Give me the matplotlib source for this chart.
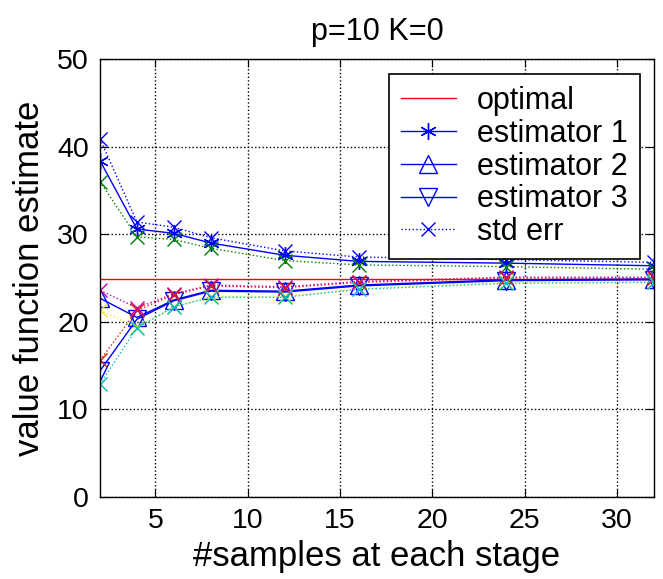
import matplotlib
matplotlib.use('agg')
import matplotlib.pyplot as plt

# data
n_samples = [2, 4, 6, 8, 12, 16, 24, 32]
optimal = 24.9

est1 = [38.4, 30.6, 30.1, 29.0, 27.6, 26.9, 26.7, 26.4]
est1_hi = [40.9, 31.4, 30.8, 29.6, 28.1, 27.4, 27.1, 26.8]
est1_lo = [36.0, 29.7, 29.4, 28.4, 27.0, 26.5, 26.3, 26.0]

est2 = [22.7, 20.5, 22.5, 23.6, 23.5, 24.2, 24.8, 24.9]
est2_hi = [23.6, 21.6, 23.2, 24.2, 24.0, 24.6, 25.1, 25.1]
est2_lo = [21.3, 19.4, 21.7, 22.9, 22.9, 23.8, 24.5, 24.6]

est3 = [14.4, 20.3, 22.4, 23.5, 23.4, 24.1, 24.7, 24.8]
est3_hi = [15.6, 21.3, 23.1, 24.1, 23.9, 24.5, 25.0, 25.0]
est3_lo = [12.9, 19.3, 21.7, 22.8, 22.8, 23.7, 24.4, 24.5]

xticks = [5, 10, 15, 20, 25, 30]
yticks = [0, 10, 20, 30, 40, 50]

plt.rcParams['font.family'] = ['Liberation Sans', 'DejaVu Sans']

fig = plt.figure(figsize=(6.63, 5.79), dpi=100)
ax = fig.add_axes([0.1508, 0.1416, 0.8356, 0.7564])

blue = (0, 0, 1)
ax.plot([n_samples[0], n_samples[-1]], [optimal, optimal], color='red', lw=1, label='optimal')
ax.plot(n_samples, est1, color=blue, lw=1, marker=(6, 2, 0), ms=12, mew=1,
        label='estimator 1')
ax.plot(n_samples, est2, color=blue, lw=1, marker='^', ms=13, mfc='none', mew=1,
        label='estimator 2')
ax.plot(n_samples, est3, color=blue, lw=1, marker='v', ms=13, mfc='none', mew=1,
        label='estimator 3')

# std err bands (dotted, x markers)
err_style = dict(ls=':', lw=1, marker='x', ms=10, mew=1)
ax.plot(n_samples, est1_hi, color=blue, label='std err', **err_style)
ax.plot(n_samples, est1_lo, color=(0, 0.5, 0), **err_style)
ax.plot(n_samples, est2_hi, color=(0.75, 0, 0.75), **err_style)
ax.plot(n_samples, est2_lo, color=(0.95, 0.9, 0.2), **err_style)
ax.plot(n_samples, est3_hi, color=(0.85, 0.1, 0.1), **err_style)
ax.plot(n_samples, est3_lo, color=(0, 0.75, 0.75), **err_style)

ax.set_xlim(2, 32)
ax.set_ylim(0, 50)
ax.set_xticks(xticks)
ax.set_yticks(yticks)
ax.grid(True, ls=':', color='black', lw=1)
ax.tick_params(direction='in', top=True, right=True, labelsize=20.5, length=6, pad=8)
for s in ax.spines.values():
    s.set_linewidth(1)

ax.set_title('p=10 K=0', fontsize=22, pad=14)
ax.set_xlabel('#samples at each stage', fontsize=25, labelpad=4)
ax.set_ylabel('value function estimate', fontsize=25, labelpad=8)

leg = ax.legend(loc='upper right', bbox_to_anchor=(0.975, 0.966), borderaxespad=0,
                fontsize=22, frameon=True, fancybox=False, edgecolor='black',
                framealpha=1, handlelength=1.8, borderpad=0.4, labelspacing=0.09,
                handletextpad=0.7)
leg.get_frame().set_linewidth(1.2)

fig.savefig('out.png', dpi=100)
